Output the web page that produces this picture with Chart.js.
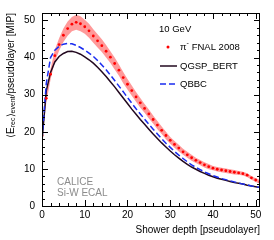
<!DOCTYPE html>
<html lang="en">
<head>
    <meta charset="UTF-8">
    <script src="https://cdn.jsdelivr.net/npm/chart.js"></script>
    <title>Longitudinal profile</title>
    <style>
        body { margin: 0; padding: 0; background: #fff; }
        #wrap { width: 274px; height: 240px; }
    </style>
</head>
<body>
<div id="wrap"><canvas id="profile" width="274" height="240"></canvas></div>
<script>
    // shower depth in pseudolayers
    const layers = [0,1,2,3,4,5,6,7,8,9,10,11,12,13,14,15,16,17,18,19,20,21,22,23,24,25,
        26,27,28,29,30,31,32,33,34,35,36,37,38,39,40,41,42,43,44,45,46,47,48,49,50,51];
    // pi- FNAL 2008 data, MIP per pseudolayer
    const fnal = [19, 29, 35.5, 40.5, 43.5, 46, 47.8, 49, 49.5, 49.1, 48.3, 47.2, 45.8, 44.5, 43.2, 41.7,
        40.1, 38.4, 36.6, 34.6, 32.8, 31.1, 29.4, 27.8, 26.3, 24.8, 23.3, 21.8, 20.4, 19.0, 17.7, 16.6,
        15.6, 14.6, 13.8, 13.0, 12.3, 11.7, 11.1, 10.6, 10.2, 9.9, 9.7, 9.5, 9.3, 9.1, 8.9, 8.7, 8.3,
        7.6, 7.0, 6.5];
    // half width of the systematic band
    const fnalErr = [0.8, 1.2, 1.4, 1.6, 1.7, 1.8, 1.9, 1.9, 2.0, 2.0, 1.9, 1.9, 1.8, 1.8, 1.7, 1.7,
        1.6, 1.6, 1.5, 1.5, 1.4, 1.4, 1.3, 1.3, 1.2, 1.2, 1.1, 1.1, 1.0, 1.0, 0.9, 0.9, 0.9, 0.8, 0.8,
        0.8, 0.7, 0.7, 0.7, 0.7, 0.6, 0.6, 0.6, 0.6, 0.6, 0.6, 0.5, 0.5, 0.5, 0.5, 0.5, 0.5];
    const qgspBert = [17.5, 31, 36, 38.8, 40.3, 41.1, 41.6, 41.7, 41.4, 40.9, 40.2, 39.4, 38.5, 37.4,
        36.2, 34.9, 33.5, 32.1, 30.6, 29.1, 27.6, 26.1, 24.7, 23.3, 22.0, 20.7, 19.4, 18.2, 17.0, 15.9,
        14.8, 13.8, 12.9, 12.0, 11.2, 10.5, 9.9, 9.3, 8.8, 8.3, 7.9, 7.5, 7.2, 6.9, 6.6, 6.3, 6.1, 5.9,
        5.6, 5.4, 5.2, 5.0];
    const qbbc = [18, 33, 40, 42, 43, 43.6, 43.8, 43.7, 43.3, 42.7, 42.0, 41.2, 40.3, 39.2, 38.0, 36.7,
        35.3, 33.8, 32.3, 30.8, 29.2, 27.7, 26.2, 24.8, 23.4, 22.0, 20.7, 19.4, 18.1, 16.9, 15.8, 14.7,
        13.7, 12.8, 11.9, 11.1, 10.4, 9.8, 9.2, 8.7, 8.2, 7.8, 7.4, 7.1, 6.8, 6.5, 6.2, 5.9, 5.7, 5.4,
        5.2, 5.0];
    const xTicks = [0, 10, 20, 30, 40, 50];
    const yTicks = [0, 10, 20, 30, 40, 50];

    const FONT = 'Liberation Sans, Arial, Helvetica, sans-serif';
    const pts = (ys) => layers.map((x, i) => ({ x: x, y: ys[i] }));

    // ROOT style frame: inward ticks on all four sides, axis titles, legend and label
    const rootFrame = {
        id: 'rootFrame',
        afterDraw(chart) {
            const ctx = chart.ctx;
            const a = chart.chartArea;
            const xs = chart.scales.x, ys = chart.scales.y;
            ctx.save();
            ctx.strokeStyle = '#000';
            ctx.lineWidth = 1;
            ctx.strokeRect(a.left + 0.5, a.top + 0.5, a.right - a.left - 1, a.bottom - a.top);
            ctx.beginPath();
            for (let v = 0; v <= 51; v += 2) {
                const px = Math.round(xs.getPixelForValue(v)) + 0.5;
                const len = v % 10 === 0 ? 6 : 3;
                ctx.moveTo(px, a.bottom); ctx.lineTo(px, a.bottom - len);
                ctx.moveTo(px, a.top); ctx.lineTo(px, a.top + len);
            }
            for (let v = 0; v <= 52; v += 2) {
                const py = Math.round(ys.getPixelForValue(v)) + 0.5;
                const len = v % 10 === 0 ? 6 : 3;
                ctx.moveTo(a.left, py); ctx.lineTo(a.left + len, py);
                ctx.moveTo(a.right, py); ctx.lineTo(a.right - len, py);
            }
            ctx.stroke();

            // x title, right aligned
            ctx.fillStyle = '#000';
            ctx.font = '10px ' + FONT;
            ctx.textAlign = 'right';
            ctx.textBaseline = 'middle';
            ctx.fillText('Shower depth [pseudolayer]', a.right, 230);

            // y title with subscripts
            ctx.save();
            ctx.translate(11, 13);
            ctx.rotate(-Math.PI / 2);
            const parts = [
                ['\u27E8E', 10, 0], ['rec', 7, 2.5], ['\u27E9', 10, 0], ['event', 7, 2.5],
                ['/pseudolayer [MIP]', 10, 0]
            ];
            let total = 0;
            parts.forEach(p => { ctx.font = p[1] + 'px ' + FONT; total += ctx.measureText(p[0]).width; });
            let cx = -total;
            ctx.textAlign = 'left';
            parts.forEach(p => {
                ctx.font = p[1] + 'px ' + FONT;
                ctx.fillText(p[0], cx, p[2]);
                cx += ctx.measureText(p[0]).width;
            });
            ctx.restore();

            // legend
            ctx.font = '9.5px ' + FONT;
            ctx.textAlign = 'left';
            ctx.fillText('10 GeV', 159, 29);
            ctx.fillStyle = '#ff0000';
            ctx.beginPath(); ctx.arc(168, 47, 1.5, 0, Math.PI * 2); ctx.fill();
            ctx.fillStyle = '#000';
            ctx.fillText('\u03C0', 180, 47);
            let w = ctx.measureText('\u03C0').width;
            ctx.font = '7px ' + FONT;
            ctx.fillText('-', 180 + w, 43);
            ctx.font = '9.5px ' + FONT;
            ctx.fillText(' FNAL 2008', 180 + w + 2.5, 47);
            ctx.fillText('QGSP_BERT', 180, 66);
            ctx.fillText('QBBC', 180, 84);
            ctx.lineWidth = 1.5;
            ctx.strokeStyle = '#22081f';
            ctx.beginPath(); ctx.moveTo(160, 66); ctx.lineTo(177, 66); ctx.stroke();
            ctx.strokeStyle = '#1a2cf0';
            ctx.setLineDash([6, 3]);
            ctx.beginPath(); ctx.moveTo(160, 84); ctx.lineTo(177, 84); ctx.stroke();
            ctx.setLineDash([]);

            // experiment label
            ctx.font = '10px ' + FONT;
            ctx.fillStyle = '#8c8c8c';
            ctx.fillText('CALICE', 57, 182);
            ctx.fillText('Si-W ECAL', 57, 193);
            ctx.restore();
        }
    };

    new Chart(document.getElementById('profile'), {
        type: 'scatter',
        data: {
            datasets: [
                {
                    label: 'band low',
                    data: layers.map((x, i) => ({ x: x, y: fnal[i] - fnalErr[i] })),
                    showLine: true, pointRadius: 0, borderWidth: 0, fill: false, order: 5
                },
                {
                    label: 'band high',
                    data: layers.map((x, i) => ({ x: x, y: fnal[i] + fnalErr[i] })),
                    showLine: true, pointRadius: 0, borderWidth: 0,
                    fill: '-1', backgroundColor: 'rgba(255, 70, 70, 0.55)', order: 4
                },
                {
                    label: 'QGSP_BERT',
                    data: pts(qgspBert),
                    showLine: true, pointRadius: 0, borderWidth: 1.5, borderColor: '#22081f', order: 3
                },
                {
                    label: 'QBBC',
                    data: pts(qbbc),
                    showLine: true, pointRadius: 0, borderWidth: 1.5, borderColor: '#1a2cf0',
                    borderDash: [6, 3], order: 2
                },
                {
                    label: 'pi- FNAL 2008',
                    data: pts(fnal),
                    pointRadius: 1.4, pointBackgroundColor: '#ff0000', pointBorderWidth: 0, order: 1
                }
            ]
        },
        options: {
            responsive: false,
            animation: false,
            events: [],
            layout: { padding: { left: 0, right: 14, top: 12, bottom: 0 } },
            plugins: { legend: { display: false }, tooltip: { enabled: false } },
            scales: {
                x: {
                    type: 'linear', min: 0, max: 51,
                    afterBuildTicks: (s) => { s.ticks = xTicks.map(v => ({ value: v })); },
                    afterFit: (s) => { s.height = 34; },
                    grid: { display: false, drawTicks: false },
                    border: { display: false },
                    ticks: { padding: 3, color: '#000', font: { family: FONT, size: 10 }, maxRotation: 0 }
                },
                y: {
                    min: 0, max: 52,
                    afterBuildTicks: (s) => { s.ticks = yTicks.map(v => ({ value: v })); },
                    afterFit: (s) => { s.width = 42; },
                    grid: { display: false, drawTicks: false },
                    border: { display: false },
                    ticks: { padding: 7, color: '#000', font: { family: FONT, size: 10 } }
                }
            }
        },
        plugins: [rootFrame]
    });
</script>
</body>
</html>
